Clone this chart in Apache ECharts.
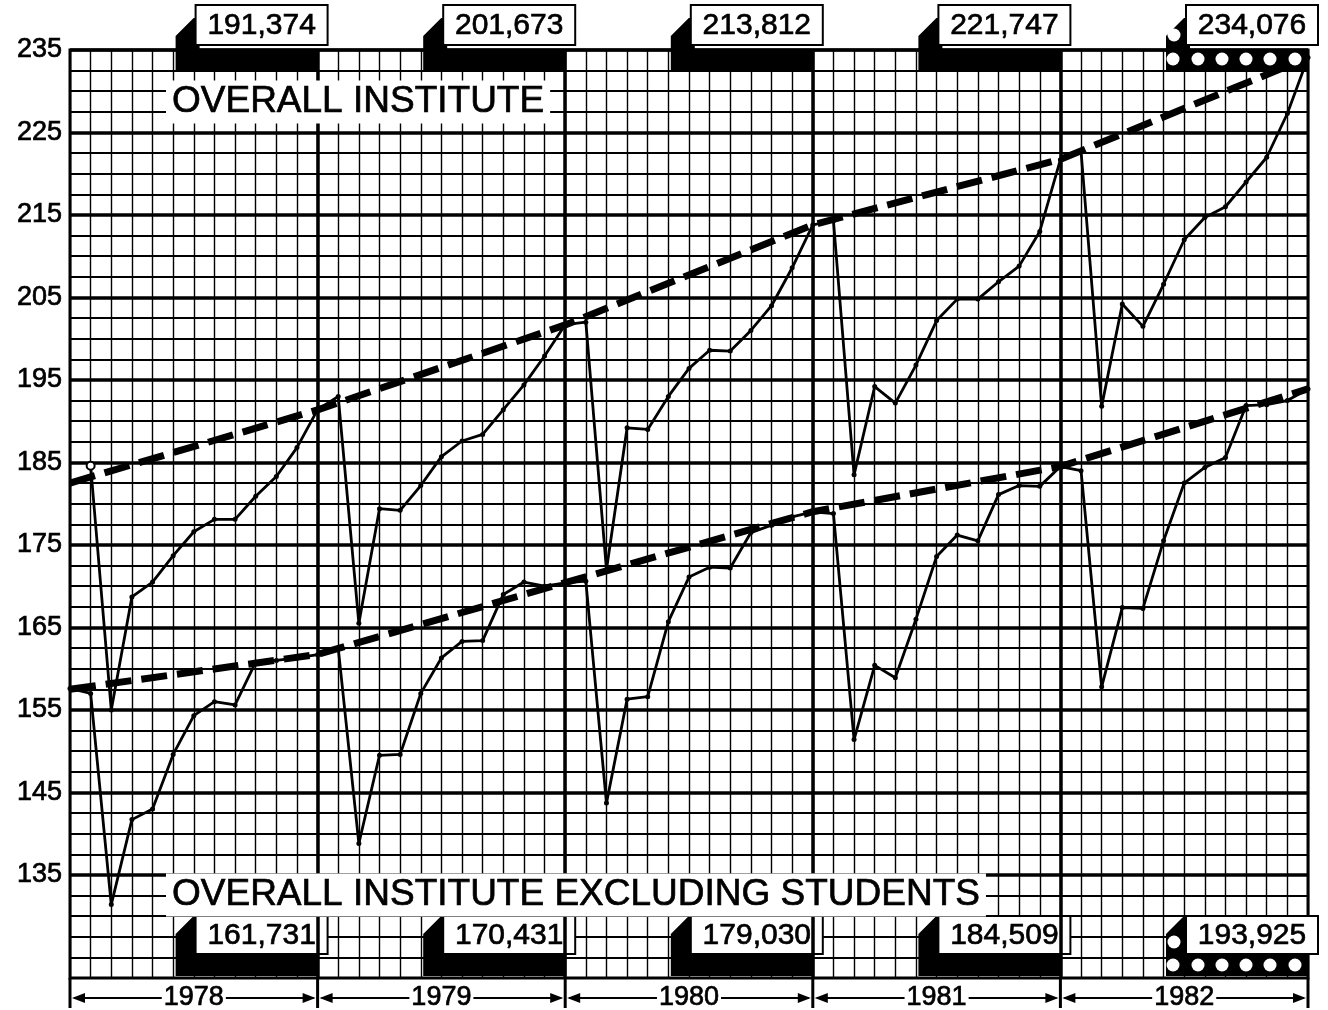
<!DOCTYPE html>
<html>
<head>
<meta charset="utf-8">
<title>Overall Institute</title>
<script src="https://cdn.jsdelivr.net/npm/echarts@6.0.0/dist/echarts.min.js"></script>
<style>
  html, body { margin: 0; padding: 0; background: #fff; }
  #chart { width: 1328px; height: 1010px; }
</style>
</head>
<body>
<div id="chart"></div>
<script>
// monthly values, thousands, Jan 1978 .. Jan 1983 (index 0..60)
var years = ['1978', '1979', '1980', '1981', '1982']
var yearEndIndex = [12, 24, 36, 48, 60]
var yTickLabels = [135, 145, 155, 165, 175, 185, 195, 205, 215, 225, 235]

var overall = [
  null, 184.6, 155.0, 168.7, 170.5, 173.7, 176.6, 178.1, 178.1, 180.9, 183.3, 186.8,
  191.4, 193.0, 165.5, 179.4, 179.2, 182.2, 185.7, 187.6, 188.4, 191.4, 194.4, 197.9,
  201.7, 202.0, 172.0, 189.2, 189.0, 193.0, 196.4, 198.6, 198.5, 201.0, 204.0, 208.6,
  213.8, 214.3, 183.5, 194.2, 192.2, 196.8, 202.2, 204.8, 204.8, 206.9, 208.8, 213.0,
  221.7, 222.7, 191.8, 204.2, 201.5, 206.6, 212.0, 214.7, 216.0, 219.0, 222.0, 227.3,
  234.1
]
var excluding = [
  157.6, 157.0, 131.4, 141.7, 143.0, 149.6, 154.3, 156.0, 155.6, 160.8, 161.0, 161.3,
  161.7, 162.5, 138.8, 149.5, 149.6, 157.0, 161.3, 163.3, 163.4, 169.0, 170.5, 170.0,
  170.4, 170.6, 143.7, 156.3, 156.6, 165.7, 171.1, 172.3, 172.2, 176.5, 177.4, 178.4,
  179.0, 178.8, 151.4, 160.4, 158.9, 166.0, 173.6, 176.2, 175.5, 181.1, 182.2, 182.1,
  184.5, 184.0, 157.8, 167.4, 167.3, 175.5, 182.5, 184.4, 185.6, 191.9, 192.0, 192.5,
  193.9
]
// year-end totals printed in the boxes
var overallYearEnd = [191.374, 201.673, 213.812, 221.747, 234.076]
var excludingYearEnd = [161.731, 170.431, 179.030, 184.509, 193.925]
// trend lines start points (Jan 1978)
var overallTrendStart = 182.5
var excludingTrendStart = 157.5

var FONT = '"Liberation Sans", Arial, sans-serif'

function fmt(v) {
  return Math.round(v * 1000).toLocaleString('en-US')
}

function pairs(arr) {
  var out = []
  arr.forEach(function (v, i) {
    if (v != null) out.push([i, v])
  })
  return out
}

function trend(start, ends) {
  var out = [[0, start]]
  ends.forEach(function (v, i) { out.push([yearEndIndex[i], v]) })
  return out
}

// printed look: a hairline stroke thickens the glyphs a bit
function inked(style) {
  style.stroke = '#000'
  style.lineWidth = 0.7
  return style
}

// the black tab + white value box at each year end
function tabRender(pos) {
  return function (params, api) {
    var cs = params.coordSys
    var x = api.coord([api.value(0), cs.y])[0]
    var film = params.dataIndex === yearEndIndex.length - 1
    var txt = fmt(api.value(1))
    var children = []
    var dotsY, leftDot
    if (pos === 'top') {
      var t = cs.y
      children.push({
        type: 'polygon',
        shape: { points: [[x - 142, t + 21], [x - 142, t - 14], [x - 124, t - 32], [x - 118, t - 32], [x - 118, t], [x + 1, t], [x + 1, t + 21]] },
        style: { fill: '#000' }
      })
      children.push({
        type: 'rect',
        shape: { x: x - 122, y: t - 45, width: 132, height: 40 },
        style: { fill: '#fff', stroke: '#000', lineWidth: 2 }
      })
      children.push({
        type: 'text',
        style: inked({ x: x - 56, y: t - 24, text: txt, align: 'center', verticalAlign: 'middle', font: '30px ' + FONT, fill: '#000' })
      })
      dotsY = t + 9
      leftDot = [x - 134, t - 15]
    } else {
      var b = cs.y + cs.height
      children.push({
        type: 'polygon',
        shape: { points: [[x - 142, b - 2], [x - 142, b - 44], [x - 124, b - 62], [x - 118, b - 62], [x - 118, b - 24], [x + 1, b - 24], [x + 1, b - 2]] },
        style: { fill: '#000' }
      })
      children.push({
        type: 'rect',
        shape: { x: x - 122, y: b - 62, width: 132, height: 38 },
        style: { fill: '#fff', stroke: '#000', lineWidth: 2 }
      })
      children.push({
        type: 'text',
        style: inked({ x: x - 56, y: b - 42, text: txt, align: 'center', verticalAlign: 'middle', font: '30px ' + FONT, fill: '#000' })
      })
      dotsY = b - 13
      leftDot = [x - 134, b - 36]
    }
    if (film) {
      [-135, -110, -86, -62, -38, -13].forEach(function (dx) {
        children.push({ type: 'circle', shape: { cx: x + dx, cy: dotsY, r: 6.5 }, style: { fill: '#fff' } })
      })
      children.push({ type: 'circle', shape: { cx: leftDot[0], cy: leftDot[1], r: 6.5 }, style: { fill: '#fff' } })
    }
    return { type: 'group', children: children }
  }
}

// year brackets under the grid:  |<---- 1978 ---->|
function yearRender(params, api) {
  var cs = params.coordSys
  var i = params.dataIndex
  var s = api.coord([api.value(0), cs.y])[0]
  var e = api.coord([api.value(1), cs.y])[0]
  var b = cs.y + cs.height
  var y = b + 20
  var children = [
    { type: 'line', shape: { x1: s, y1: b, x2: s, y2: b + 30 }, style: { stroke: '#000', lineWidth: 3 } },
    { type: 'line', shape: { x1: s + 4, y1: y, x2: e - 4, y2: y }, style: { stroke: '#000', lineWidth: 2 } },
    { type: 'polygon', shape: { points: [[s + 2, y], [s + 15, y - 5], [s + 15, y + 5]] }, style: { fill: '#000' } },
    { type: 'polygon', shape: { points: [[e - 2, y], [e - 15, y - 5], [e - 15, y + 5]] }, style: { fill: '#000' } },
    {
      type: 'text',
      style: inked({
        x: (s + e) / 2, y: y, text: years[i], align: 'center', verticalAlign: 'middle',
        font: '27px ' + FONT, fill: '#000', backgroundColor: '#fff', padding: [0, 2]
      })
    }
  ]
  if (i === years.length - 1) {
    children.push({ type: 'line', shape: { x1: e, y1: b, x2: e, y2: b + 30 }, style: { stroke: '#000', lineWidth: 3 } })
  }
  return { type: 'group', children: children }
}

var chart = echarts.init(document.getElementById('chart'))

chart.setOption({
  animation: false,
  backgroundColor: '#fff',
  grid: {
    left: 70,
    top: 50,
    width: 1238,
    height: 928,
    show: true,
    borderColor: '#000',
    borderWidth: 3,
    backgroundColor: '#fff'
  },
  xAxis: {
    type: 'value',
    min: 0,
    max: 60,
    interval: 1,
    axisLine: { show: false },
    axisTick: { show: false },
    axisLabel: { show: false },
    splitLine: { show: true, lineStyle: { color: '#000', width: 1.4 } }
  },
  yAxis: {
    type: 'value',
    min: 122.5,
    max: 235,
    interval: 2.5,
    axisLine: { show: false },
    axisTick: { show: false },
    axisLabel: {
      color: '#000',
      fontSize: 27,
      fontFamily: FONT,
      margin: 8,
      textBorderColor: '#000',
      textBorderWidth: 0.7,
      formatter: function (v) {
        return yTickLabels.indexOf(v) >= 0 ? String(v) : ''
      }
    },
    splitLine: { show: true, lineStyle: { color: '#000', width: 2 } }
  },
  series: [
    {
      // heavy rulings every 10 and at each year
      type: 'line',
      data: [[0, 235]],
      symbol: 'none',
      lineStyle: { opacity: 0 },
      silent: true,
      z: 1,
      markLine: {
        silent: true,
        symbol: 'none',
        label: { show: false },
        lineStyle: { color: '#000', width: 3.5, type: 'solid' },
        data: yTickLabels.map(function (v) { return { yAxis: v } })
          .concat(yearEndIndex.slice(0, -1).map(function (k) { return { xAxis: k } }))
      }
    },
    {
      name: 'overall trend',
      type: 'line',
      data: trend(overallTrendStart, overallYearEnd),
      symbol: 'none',
      z: 3,
      lineStyle: { color: '#000', width: 7, type: [26, 10] }
    },
    {
      name: 'excluding trend',
      type: 'line',
      data: trend(excludingTrendStart, excludingYearEnd),
      symbol: 'none',
      z: 3,
      lineStyle: { color: '#000', width: 7, type: [26, 10] }
    },
    {
      name: 'OVERALL INSTITUTE',
      type: 'line',
      data: pairs(overall).map(function (d, i) {
        return i === 0
          ? { value: d, symbolSize: 8, itemStyle: { color: '#fff', borderColor: '#000', borderWidth: 2 } }
          : d
      }),
      symbol: 'circle',
      symbolSize: 5,
      z: 5,
      itemStyle: { color: '#000' },
      lineStyle: { color: '#000', width: 2.8 }
    },
    {
      name: 'OVERALL INSTITUTE EXCLUDING STUDENTS',
      type: 'line',
      data: pairs(excluding),
      symbol: 'circle',
      symbolSize: 5,
      z: 5,
      itemStyle: { color: '#000' },
      lineStyle: { color: '#000', width: 2.8 }
    },
    {
      type: 'custom',
      renderItem: tabRender('top'),
      data: yearEndIndex.map(function (k, i) { return [k, overallYearEnd[i]] }),
      clip: false,
      silent: true,
      z: 4
    },
    {
      type: 'custom',
      renderItem: tabRender('bottom'),
      data: yearEndIndex.map(function (k, i) { return [k, excludingYearEnd[i]] }),
      clip: false,
      silent: true,
      z: 4
    },
    {
      type: 'custom',
      renderItem: yearRender,
      data: yearEndIndex.map(function (k) { return [k - 12, k] }),
      clip: false,
      silent: true,
      z: 4
    }
  ],
  graphic: [
    {
      type: 'text',
      z: 100,
      x: 166,
      y: 102,
      style: inked({
        text: 'OVERALL INSTITUTE',
        font: '37px ' + FONT,
        fill: '#000',
        verticalAlign: 'middle',
        backgroundColor: '#fff',
        padding: [4, 6, 2, 6]
      })
    },
    {
      type: 'text',
      z: 100,
      x: 166,
      y: 895,
      style: inked({
        text: 'OVERALL INSTITUTE EXCLUDING STUDENTS',
        font: '37px ' + FONT,
        fill: '#000',
        verticalAlign: 'middle',
        backgroundColor: '#fff',
        padding: [4, 6, 2, 6]
      })
    }
  ]
})
</script>
</body>
</html>
